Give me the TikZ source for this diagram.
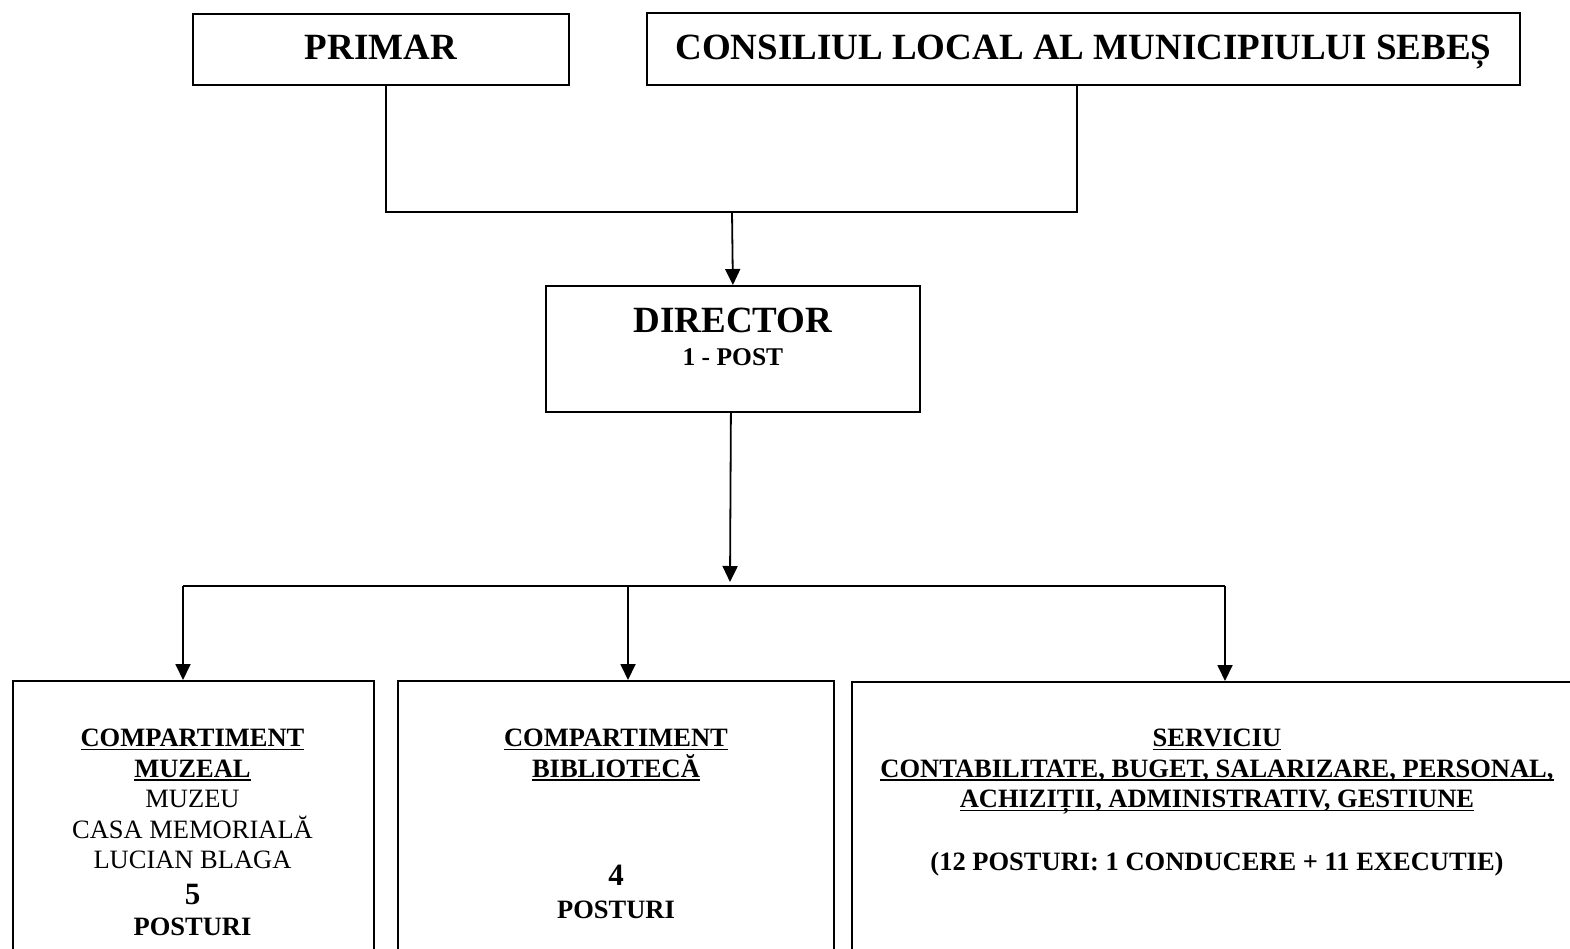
\documentclass[tikz,border=0pt]{standalone}
\usepackage{fontspec}
\setmainfont{Liberation Serif}
\usetikzlibrary{arrows.meta}
\newcommand\ulx[1]{\begingroup\setbox0\hbox{#1}\rlap{\rule[-3.5pt]{\wd0}{1.6pt}}\box0\endgroup}
\begin{document}
\begin{tikzpicture}[x=1pt,y=-1pt,
  box/.style={draw, line width=1.8pt, rectangle, inner sep=0pt, anchor=north west},
  conn/.style={line width=1.8pt},
  arr/.style={conn, -{Triangle[length=16pt,width=15pt]}},
  bigtxt/.style={font={\fontsize{37}{40}\selectfont\bfseries}},
  boxtxt/.style={font={\fontsize{26.5}{30.5}\selectfont\bfseries}, align=center, anchor=north, inner sep=0pt}
]
\useasboundingbox (0,0) rectangle (1570,948);
\fill[white] (0,0) rectangle (1570,948);
\clip (0,0) rectangle (1570,948);

% top boxes
\node[box, minimum width=376pt, minimum height=71pt] (primar) at (192,13) {};
\node[bigtxt, inner sep=0pt] (tprimar) at ([yshift=2pt]primar.center) {PRIMAR};
\node[box, minimum width=873pt, minimum height=72pt] (consil) at (646,12) {};
\node[bigtxt, inner sep=0pt, anchor=base] (tconsil) at ([yshift=-11pt]consil.center) {CONSILIUL LOCAL AL MUNICIPIULUI SEBEȘ};

% director
\node[box, minimum width=374pt, minimum height=126pt] (director) at (545,285) {};
\node[font={\fontsize{37}{32.5}\selectfont\bfseries}, align=center, anchor=north, inner sep=0pt] (tdir)
  at ([yshift=-23pt]director.north) {DIRECTOR\\{\fontsize{25.5}{30}\selectfont 1 - POST}};

% bottom boxes
\node[box, minimum width=361pt, minimum height=320pt] (muz) at (12,680) {};
\node[box, minimum width=436pt, minimum height=320pt] (bib) at (397,680) {};
\node[box, minimum width=740pt, minimum height=320pt] (serv) at (851,681) {};

\node[boxtxt] (tmuz) at (192.5,729) {\ulx{COMPARTIMENT}\\ \ulx{MUZEAL}\\ {\mdseries MUZEU}\\ {\mdseries CASA MEMORIALĂ}\\ {\mdseries LUCIAN BLAGA}\\[5pt] {\fontsize{31}{30.5}\selectfont 5}\\[0.5pt] POSTURI};
\node[boxtxt] (tbib) at (616,729) {\ulx{COMPARTIMENT}\\ \ulx{BIBLIOTECĂ}\\[78pt] {\fontsize{31}{30.5}\selectfont 4}\\[2pt] POSTURI};
\node[boxtxt] (tserv) at (1217,729) {\ulx{SERVICIU}\\ \ulx{CONTABILITATE, BUGET, SALARIZARE, PERSONAL,}\\ \ulx{ACHIZIȚII, ADMINISTRATIV, GESTIUNE}\\[32.5pt] (12 POSTURI: 1 CONDUCERE + 11 EXECUTIE)};

% connectors
\coordinate (j1) at (732,212);
\draw[conn] ([xshift=5pt]primar.south) |- (j1) -| ([xshift=-6.5pt]consil.south);
\draw[arr] (j1) -- (director.north);

\coordinate (j2) at (730,582);
\draw[arr] ([xshift=-2pt]director.south) -- (j2);

\coordinate (hl) at (183,586);
\coordinate (hm) at (628,586);
\coordinate (hr) at (1225,586);
\draw[conn] (hl) -- (hr);
\draw[arr] (hl) -- (hl |- muz.north);
\draw[arr] (hm) -- (hm |- bib.north);
\draw[arr] (hr) -- (hr |- serv.north);
\end{tikzpicture}
\end{document}
